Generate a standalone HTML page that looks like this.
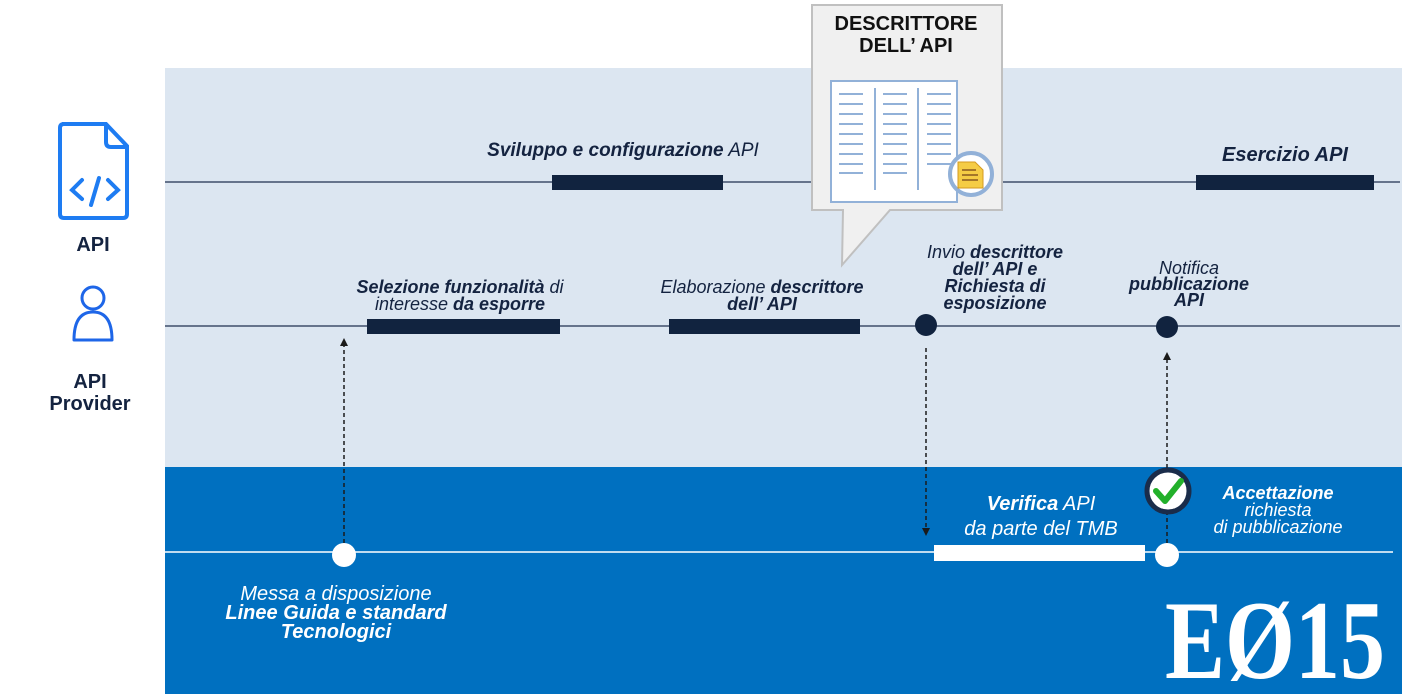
<!DOCTYPE html>
<html><head><meta charset="utf-8"><style>
body{margin:0;width:1402px;height:694px;overflow:hidden;background:#fff;font-family:"Liberation Sans",sans-serif}
</style></head><body>
<svg width="1402" height="694" xmlns="http://www.w3.org/2000/svg" font-family="Liberation Sans, sans-serif">
<defs>
<marker id="ah" markerWidth="8" markerHeight="8" refX="4" refY="4" orient="auto" markerUnits="userSpaceOnUse"><path d="M0,0 L8,4 L0,8 Z" fill="#1a1a1a"/></marker>
</defs>
<rect x="165" y="68" width="1237" height="400" fill="#dce6f1"/>
<rect x="165" y="467" width="1237" height="227" fill="#0070c0"/>
<path d="M62,124 H106 L127,146 V214 Q127,218 123,218 H64 Q60,218 60,214 V128 Q60,124 64,124 Z" fill="none" stroke="#1e7cf2" stroke-width="4"/>
<path d="M106,124 V142 Q106,147 111,147 H127" fill="none" stroke="#1e7cf2" stroke-width="4"/>
<path d="M82,180 L72,190 L82,199 M108,180 L118,190 L108,199 M99,178 L91,205" fill="none" stroke="#1e7cf2" stroke-width="4" stroke-linecap="round"/>
<text x="93" y="251" text-anchor="middle" font-size="20" font-weight="bold" fill="#142340">API</text>
<circle cx="93" cy="298" r="11" fill="none" stroke="#1e66e8" stroke-width="3"/>
<path d="M74,340 Q74,312 93,312 Q112,312 112,340 Z" fill="none" stroke="#1e66e8" stroke-width="3" stroke-linejoin="round"/>
<text x="90" y="388" text-anchor="middle" font-size="20" font-weight="bold" fill="#142340">API</text>
<text x="90" y="410" text-anchor="middle" font-size="20" font-weight="bold" fill="#142340">Provider</text>
<line x1="165" y1="182" x2="1400" y2="182" stroke="#1f3050" stroke-width="1.3"/>
<line x1="165" y1="326" x2="1400" y2="326" stroke="#1f3050" stroke-width="1.3"/>
<line x1="165" y1="552" x2="1393" y2="552" stroke="#fff" stroke-width="1.5"/>
<rect x="552" y="175" width="171" height="15" fill="#11233f"/>
<rect x="1196" y="175" width="178" height="15" fill="#11233f"/>
<rect x="367" y="319" width="193" height="15" fill="#11233f"/>
<rect x="669" y="319" width="191" height="15" fill="#11233f"/>
<circle cx="926" cy="325" r="11" fill="#11233f"/>
<circle cx="1167" cy="327" r="11" fill="#11233f"/>
<rect x="934" y="545" width="211" height="16" fill="#fff"/>
<circle cx="344" cy="555" r="12" fill="#fff"/>
<circle cx="1167" cy="555" r="12" fill="#fff"/>
<line x1="344" y1="543" x2="344" y2="342" stroke="#1a1a1a" stroke-width="1.5" stroke-dasharray="4,3" marker-end="url(#ah)"/>
<line x1="926" y1="348" x2="926" y2="532" stroke="#1a1a1a" stroke-width="1.5" stroke-dasharray="4,3" marker-end="url(#ah)"/>
<line x1="1167" y1="543" x2="1167" y2="512" stroke="#1a1a1a" stroke-width="1.5" stroke-dasharray="4,3"/>
<line x1="1167" y1="468" x2="1167" y2="356" stroke="#1a1a1a" stroke-width="1.5" stroke-dasharray="4,3" marker-end="url(#ah)"/>
<circle cx="1168" cy="491" r="21" fill="#fff" stroke="#1a2c4a" stroke-width="5"/>
<path d="M1156,491 L1165,501 L1181,481" fill="none" stroke="#22b02a" stroke-width="6" stroke-linecap="round" stroke-linejoin="round"/>
<g fill="#142340" font-style="italic" font-size="19">
<text x="623" y="156" text-anchor="middle"><tspan font-weight="bold">Sviluppo e configurazione</tspan> API</text>
<text x="1285" y="161" text-anchor="middle" font-weight="bold" font-size="20">Esercizio API</text>
<text x="460" y="293" text-anchor="middle" font-size="18"><tspan font-weight="bold">Selezione funzionalità</tspan> di</text>
<text x="460" y="310" text-anchor="middle" font-size="18">interesse <tspan font-weight="bold">da esporre</tspan></text>
<text x="762" y="293" text-anchor="middle" font-size="18">Elaborazione <tspan font-weight="bold">descrittore</tspan></text>
<text x="762" y="310" text-anchor="middle" font-size="18" font-weight="bold">dell’ API</text>
<text x="995" y="258" text-anchor="middle" font-size="18">Invio <tspan font-weight="bold">descrittore</tspan></text>
<text x="995" y="275" text-anchor="middle" font-size="18" font-weight="bold">dell’ API e</text>
<text x="995" y="292" text-anchor="middle" font-size="18" font-weight="bold">Richiesta di</text>
<text x="995" y="309" text-anchor="middle" font-size="18" font-weight="bold">esposizione</text>
<text x="1189" y="274" text-anchor="middle" font-size="18">Notifica</text>
<text x="1189" y="290" text-anchor="middle" font-size="18" font-weight="bold">pubblicazione</text>
<text x="1189" y="306" text-anchor="middle" font-size="18" font-weight="bold">API</text>
</g>
<g fill="#fff" font-style="italic">
<text x="1041" y="510" text-anchor="middle" font-size="20"><tspan font-weight="bold">Verifica</tspan> API</text>
<text x="1041" y="535" text-anchor="middle" font-size="20">da parte del TMB</text>
<text x="1278" y="499" text-anchor="middle" font-size="18" font-weight="bold">Accettazione</text>
<text x="1278" y="516" text-anchor="middle" font-size="18">richiesta</text>
<text x="1278" y="533" text-anchor="middle" font-size="18">di pubblicazione</text>
<text x="336" y="600" text-anchor="middle" font-size="20">Messa a disposizione</text>
<text x="336" y="619" text-anchor="middle" font-size="20" font-weight="bold">Linee Guida e standard</text>
<text x="336" y="638" text-anchor="middle" font-size="20" font-weight="bold">Tecnologici</text>
</g>
<text x="1165" y="678" font-family="Liberation Serif, serif" font-weight="bold" font-size="112" fill="#fff" textLength="220" lengthAdjust="spacingAndGlyphs">EØ15</text>
<path d="M812,5 H1002 V210 H890 L842,265 L843,210 H812 Z" fill="#f0f0f0" stroke="#c0c0c0" stroke-width="2"/>
<text x="906" y="30" text-anchor="middle" font-size="20" font-weight="bold" fill="#111">DESCRITTORE</text>
<text x="906" y="52" text-anchor="middle" font-size="20" font-weight="bold" fill="#111">DELL’ API</text>
<rect x="831" y="81" width="126" height="121" fill="#fff" stroke="#92b1d8" stroke-width="2"/>
<line x1="875" y1="88" x2="875" y2="190" stroke="#92b1d8" stroke-width="2"/>
<line x1="918" y1="88" x2="918" y2="190" stroke="#92b1d8" stroke-width="2"/>
<g stroke="#92b1d8" stroke-width="2">
<path d="M839,94h24M839,104h24M839,114h24M839,124h24M839,134h24M839,144h24M839,154h24M839,164h24M839,173h24"/>
<path d="M883,94h24M883,104h24M883,114h24M883,124h24M883,134h24M883,144h24M883,154h24M883,164h24M883,173h24"/>
<path d="M927,94h24M927,104h24M927,114h24M927,124h24M927,134h24M927,144h24M927,154h24M927,164h24"/>
</g>
<circle cx="971" cy="174" r="21" fill="#fff" stroke="#92b1d8" stroke-width="4"/>
<path d="M958,162 H975 L983,170 V188 H958 Z" fill="#f5cc45" stroke="#d49a20" stroke-width="1"/>
<path d="M962,170h14M962,175h16M962,180h16" stroke="#8a5a20" stroke-width="1.5"/>
</svg>
</body></html>
